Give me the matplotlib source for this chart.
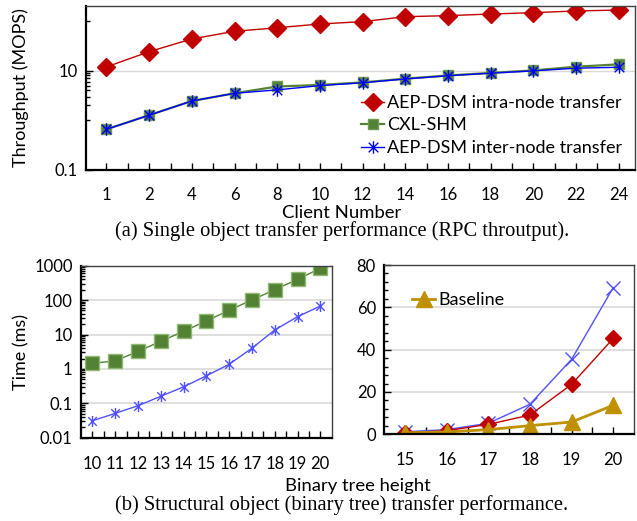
import matplotlib
matplotlib.use("Agg")
import matplotlib.pyplot as plt
import numpy as np
from matplotlib.path import Path
from matplotlib.ticker import FixedLocator, NullFormatter, NullLocator

plt.rcParams['font.family'] = ['Lato', 'DejaVu Sans']

# ---------------- data ----------------
clients = ["1", "2", "4", "6", "8", "10", "12", "14", "16", "18", "20", "22", "24"]
intra_tput = [11.9, 24.1, 43.5, 62, 73, 87, 97, 122, 128, 138, 147, 159, 166]
cxl_tput = [0.66, 1.27, 2.45, 3.5, 4.8, 5.15, 5.8, 6.9, 8.0, 9.0, 10.1, 12.0, 13.4]
inter_tput = [0.66, 1.27, 2.45, 3.5, 4.1, 5.0, 5.7, 6.8, 7.9, 8.9, 9.9, 11.2, 11.7]

heights_left = ["10", "11", "12", "13", "14", "15", "16", "17", "18", "19", "20"]
cxl_time = [1.46, 1.7, 3.25, 6.3, 12.4, 24.7, 50.5, 101, 200, 402, 840]
inter_time = [0.031, 0.051, 0.085, 0.16, 0.30, 0.63, 1.36, 4.0, 13.5, 32.9, 67]

heights_right = ["15", "16", "17", "18", "19", "20"]
inter_time_r = [1.2, 2.2, 5.2, 14.2, 35.4, 69.3]
intra_time_r = [0.8, 1.7, 4.7, 9.1, 23.6, 45.3]
baseline_time = [0.7, 1.1, 2.2, 4.1, 5.8, 13.7]

# ---------------- style ----------------
RED = "#C00000"
GREEN = "#548235"
BLUE = "#0000FF"
LBLUE = "#5050FF"
GOLD = "#BF9000"
GRID = "#D9D9D9"

star = Path([(-1, -1), (1, 1), (-1, 1), (1, -1), (0, -1.3), (0, 1.3)],
            [Path.MOVETO, Path.LINETO, Path.MOVETO, Path.LINETO, Path.MOVETO, Path.LINETO])

W, H = 637, 521
fig = plt.figure(figsize=(W / 100, H / 100), dpi=100)


def box(l, t, r, b):
    return [l / W, 1 - b / H, (r - l) / W, (b - t) / H]


def style_axes(ax):
    for s in ['left', 'bottom']:
        ax.spines[s].set_color('black')
        ax.spines[s].set_linewidth(1.6)
    for s in ['top', 'right']:
        ax.spines[s].set_color('#404040')
        ax.spines[s].set_linewidth(1.0)
    ax.tick_params(axis='both', which='both', direction='in', labelsize=12, colors='black')
    ax.tick_params(axis='x', which='both', length=5, width=1, pad=12)
    ax.tick_params(axis='y', which='major', length=5, width=1, pad=6)
    ax.tick_params(axis='y', which='minor', length=3, width=1)
    ax.set_axisbelow(True)


# ---------------- (a) top chart ----------------
ax1 = fig.add_axes(box(86, 5.7, 635, 170))
x1 = np.arange(len(clients))
ax1.plot(x1, intra_tput, color=RED, lw=1.0, marker='D', ms=9, mfc=RED, mec=RED,
         label="AEP-DSM intra-node transfer")
ax1.plot(x1, cxl_tput, color=GREEN, lw=1.6, marker='s', ms=7.5, mfc=GREEN, mec='#6f9a50',
         label="CXL-SHM")
ax1.plot(x1, inter_tput, color=BLUE, lw=1.0, marker=star, ms=9, mec=BLUE, mew=1.0,
         label="AEP-DSM inter-node transfer")
ax1.set_yscale('log')
ax1.set_ylim(0.1, 203)
ax1.set_xlim(-0.48, len(clients) - 0.62)
ax1.yaxis.set_major_locator(FixedLocator([0.1, 10]))
ax1.set_yticklabels(["0.1", "10"])
ax1.yaxis.set_minor_locator(FixedLocator([1, 2, 3, 4, 5, 6, 7, 8, 9, 100]))
ax1.yaxis.set_minor_formatter(NullFormatter())
ax1.set_xticks(x1)
ax1.set_xticklabels(clients)
ax1.set_xticks(x1[:-1] + 0.5, minor=True)
ax1.axhline(10, color=GRID, lw=1.0, zorder=0)
style_axes(ax1)
ax1.tick_params(axis='x', which='both', pad=12)
ax1.set_ylabel("Throughput (MOPS)", fontsize=13)
ax1.yaxis.set_label_coords((29 - 86) / 549, 0.5)
fig.text(342 / W, 1 - 213 / H, "Client Number", ha='center', va='center', fontsize=13.3)
fig.text(342 / W, 1 - 231.5 / H, "(a) Single object transfer performance (RPC throutput).",
         ha='center', va='center', fontsize=14.8, family='Liberation Serif')
leg = ax1.legend(loc='upper left', bbox_to_anchor=(361 / W, 1 - 95 / H),
                 bbox_transform=fig.transFigure, frameon=False, fontsize=13,
                 handlelength=1.3, handletextpad=0.15, labelspacing=0.36, borderpad=0,
                 borderaxespad=0)

# ---------------- (b) bottom-left chart ----------------
ax2 = fig.add_axes(box(81, 265.7, 331.7, 437.7))
x2 = np.arange(len(heights_left))
ax2.plot(x2, cxl_time, color=GREEN, lw=1.0, marker='s', ms=10, mfc=GREEN, mec='#8fb873', mew=1.0)
ax2.plot(x2, inter_time, color=LBLUE, lw=1.0, marker=star, ms=8, mec=LBLUE, mew=1.0)
ax2.set_yscale('log')
ax2.set_ylim(0.01, 1000)
ax2.set_xlim(-0.5, len(heights_left) - 0.5)
ax2.yaxis.set_major_locator(FixedLocator([0.01, 0.1, 1, 10, 100, 1000]))
ax2.set_yticklabels(["0.01", "0.1", "1", "10", "100", "1000"])
ax2.yaxis.set_minor_locator(FixedLocator(
    [m * 10.0 ** e for e in range(-2, 3) for m in range(2, 10)]))
ax2.yaxis.set_minor_formatter(NullFormatter())
ax2.set_xticks(x2)
ax2.set_xticklabels(heights_left)
ax2.set_xticks(x2[:-1] + 0.5, minor=True)
for v in [0.1, 1, 10, 100]:
    ax2.axhline(v, color=GRID, lw=1.2, zorder=0)
style_axes(ax2)
ax2.tick_params(axis='x', which='both', pad=13)
ax2.set_ylabel("Time (ms)", fontsize=13)
ax2.yaxis.set_label_coords((29 - 81) / 250.7, 0.5)

# ---------------- (b) bottom-right chart ----------------
ax3 = fig.add_axes(box(384.3, 265, 634, 434.3))
x3 = np.arange(len(heights_right))
ax3.plot(x3, inter_time_r, color=LBLUE, lw=1.0, marker='x', ms=10.5, mew=1.0)
ax3.plot(x3, intra_time_r, color=RED, lw=1.0, marker='D', ms=8, mfc=RED, mec=RED)
ax3.plot(x3, baseline_time, color=GOLD, lw=2.0, marker='^', ms=11, mfc=GOLD, mec=GOLD,
         label="Baseline")
ax3.set_ylim(0, 80)
ax3.set_xlim(-0.5, len(heights_right) - 0.5)
ax3.set_yticks([0, 20, 40, 60, 80])
ax3.set_yticks(np.arange(0, 81, 4), minor=True)
ax3.set_xticks(x3)
ax3.set_xticklabels(heights_right)
ax3.set_xticks(x3[:-1] + 0.5, minor=True)
for v in [20, 40, 60]:
    ax3.axhline(v, color=GRID, lw=1.2, zorder=0)
style_axes(ax3)
ax3.tick_params(axis='x', which='both', pad=13)
ax3.legend(loc='upper left', bbox_to_anchor=(412 / W, 1 - 292 / H),
           bbox_transform=fig.transFigure, frameon=False, fontsize=13,
           handlelength=1.3, handletextpad=0.15, borderpad=0, borderaxespad=0)

fig.text(358 / W, 1 - 486.5 / H, "Binary tree height", ha='center', va='center', fontsize=13.3)
fig.text(342 / W, 1 - 505.5 / H, "(b) Structural object (binary tree) transfer performance.",
         ha='center', va='center', fontsize=14.8, family='Liberation Serif')

fig.savefig("out.png", dpi=100)
